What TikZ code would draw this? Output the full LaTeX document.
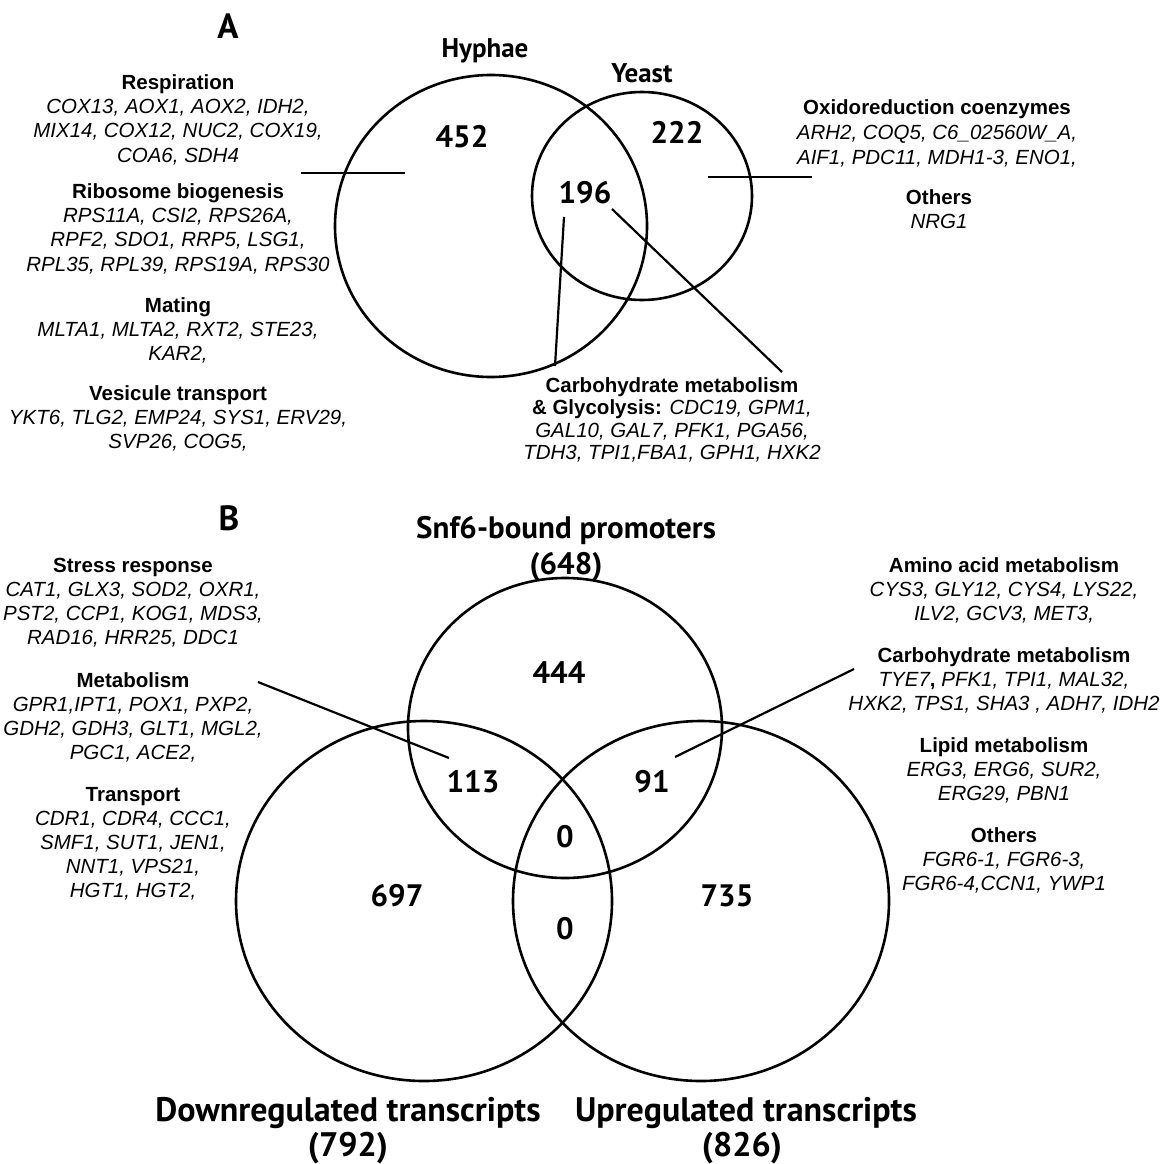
\documentclass[tikz,border=0pt]{standalone}
\usepackage{fontspec}
\setmainfont{Liberation Sans}
\newfontfamily\labfont{PT Sans}
\newcommand\cathead[1]{\textbf{\upshape #1}}
\begin{document}
\begin{tikzpicture}[x=1pt,y=-1pt,
  circ/.style={line width=2.6pt},
  conn/.style={line width=2.2pt},
  blk/.style={align=center,inner sep=0pt,anchor=north,font=\fontsize{20.5}{24.2}\selectfont\itshape},
  num/.style={anchor=base,inner sep=0pt,font=\labfont\bfseries\fontsize{31}{31}\selectfont},
  ttl/.style={anchor=base,inner sep=0pt,font=\labfont\bfseries\fontsize{31}{31}\selectfont},
  big/.style={anchor=base,inner sep=0pt,font=\labfont\bfseries\fontsize{34}{34}\selectfont},
  panel/.style={anchor=base,inner sep=0pt,font=\labfont\bfseries\fontsize{35}{35}\selectfont}]
\fill[white] (0,0) rectangle (1162,1164);
\useasboundingbox (0,0) rectangle (1162,1164);

% ---------- Panel A ----------
\node[panel] (pA) at (228,38) {A};
\node[ttl,font=\labfont\bfseries\fontsize{27}{27}\selectfont] (hyph) at (485,58) {Hyphae};
\node[ttl,font=\labfont\bfseries\fontsize{27}{27}\selectfont] (yeast) at (642,82) {Yeast};
\draw[circ] (491,226) ellipse [x radius=156pt, y radius=151pt];
\draw[circ] (642,196) ellipse [x radius=110pt, y radius=104pt];
\node[num] (n452) at (462,147) {452};
\node[num] (n222) at (677,143) {222};
\node[num] (n196) at (585,203) {196};

\node[blk] (resp) at (178,74.5) {\cathead{Respiration}\\COX13, AOX1, AOX2, IDH2,\\MIX14, COX12, NUC2, COX19,\\COA6, SDH4};
\node[blk] (ribo) at (178,183.5) {\cathead{Ribosome biogenesis}\\RPS11A, CSI2, RPS26A,\\RPF2, SDO1, RRP5, LSG1,\\RPL35, RPL39, RPS19A, RPS30};
\node[blk] (mat) at (178,297.5) {\cathead{Mating}\\MLTA1, MLTA2, RXT2, STE23,\\KAR2,};
\node[blk] (ves) at (178,385.5) {\cathead{Vesicule transport}\\YKT6, TLG2, EMP24, SYS1, ERV29,\\SVP26, COG5,};

\node[blk,font=\fontsize{20.5}{25}\selectfont\itshape] (oxi) at (937,99.5) {\cathead{Oxidoreduction coenzymes}\\ARH2, COQ5, C6\_02560W\_A,\\AIF1, PDC11, MDH1-3, ENO1,};
\node[blk] (othA) at (939,189.5) {\cathead{Others}\\NRG1};

\node[blk,font=\fontsize{20.5}{22.4}\selectfont\itshape] (carbA) at (672,377.5) {\cathead{Carbohydrate metabolism}\\\cathead{\& Glycolysis:} CDC19, GPM1,\\GAL10, GAL7, PFK1, PGA56,\\TDH3, TPI1,FBA1, GPH1, HXK2};

\coordinate (la1) at (301,173); \coordinate (la2) at (405,173);
\coordinate (ra1) at (708,177); \coordinate (ra2) at (812,177);
\coordinate (ca1) at (564,217); \coordinate (ca2) at (555,366);
\coordinate (cb1) at (612,209); \coordinate (cb2) at (782,372);
\draw[conn] (la1) -- (la2);
\draw[conn] (ra1) -- (ra2);
\draw[conn] (ca1) -- (ca2);
\draw[conn] (cb1) -- (cb2);

% ---------- Panel B ----------
\node[panel] (pB) at (229,530) {B};
\node[ttl] (snf) at (566,538) {Snf6-bound promoters};
\node[ttl] (snfn) at (566,574) {(648)};
\node[big] (down) at (348,1121) {Downregulated transcripts};
\node[big] (downn) at (348,1156) {(792)};
\node[big] (up) at (746,1121) {Upregulated transcripts};
\node[big] (upn) at (742,1156) {(826)};

\draw[circ] (565,728) ellipse [x radius=157pt, y radius=150pt];
\draw[circ] (424,901) ellipse [x radius=188pt, y radius=180pt];
\draw[circ] (701,901) ellipse [x radius=188pt, y radius=180pt];

\node[num] (n444) at (559,683) {444};
\node[num] (n113) at (473,792) {113};
\node[num] (n91) at (652,792) {91};
\node[num] (n0a) at (565,847) {0};
\node[num] (n697) at (397,906) {697};
\node[num] (n735) at (727,906) {735};
\node[num] (n0b) at (565,939) {0};

\node[blk,font=\fontsize{20.5}{24}\selectfont\itshape] (str) at (133,557.5) {\cathead{Stress response}\\CAT1, GLX3, SOD2, OXR1,\\PST2, CCP1, KOG1, MDS3,\\RAD16, HRR25, DDC1};
\node[blk,font=\fontsize{20.5}{24}\selectfont\itshape] (met) at (133,672.5) {\cathead{Metabolism}\\GPR1,IPT1, POX1, PXP2,\\GDH2, GDH3, GLT1, MGL2,\\PGC1, ACE2,};
\node[blk,font=\fontsize{20.5}{24}\selectfont\itshape] (tra) at (133,787.5) {\cathead{Transport}\\CDR1, CDR4, CCC1,\\SMF1, SUT1, JEN1,\\NNT1, VPS21,\\HGT1, HGT2,};

\node[blk,font=\fontsize{20.5}{24}\selectfont\itshape] (ami) at (1004,557.5) {\cathead{Amino acid metabolism}\\CYS3, GLY12, CYS4, LYS22,\\ILV2, GCV3, MET3,};
\node[blk,font=\fontsize{20.5}{24}\selectfont\itshape] (carbB) at (1004,647.5) {\cathead{Carbohydrate metabolism}\\TYE7\textbf{\upshape ,} PFK1, TPI1, MAL32,\\HXK2, TPS1, SHA3 , ADH7, IDH2};
\node[blk,font=\fontsize{20.5}{24}\selectfont\itshape] (lip) at (1004,737.5) {\cathead{Lipid metabolism}\\ERG3, ERG6, SUR2,\\ERG29, PBN1};
\node[blk,font=\fontsize{20.5}{24}\selectfont\itshape] (othB) at (1004,827.5) {\cathead{Others}\\FGR6-1, FGR6-3,\\FGR6-4,CCN1, YWP1};

\coordinate (mb1) at (258,682); \coordinate (mb2) at (449,758);
\coordinate (cc1) at (854,669); \coordinate (cc2) at (675,757);
\draw[conn] (mb1) -- (mb2);
\draw[conn] (cc1) -- (cc2);
\end{tikzpicture}
\end{document}
